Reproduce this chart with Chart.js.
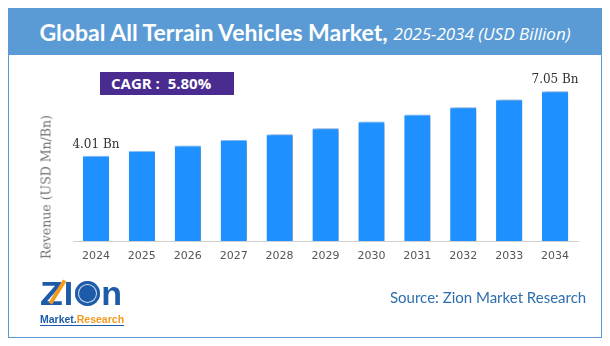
<!DOCTYPE html>
<html>
<head>
<meta charset="utf-8">
<script src="https://cdn.jsdelivr.net/npm/chart.js@4"></script>
<style>
    body { margin:0; background:#fff; }
    #wrap { position:relative; width:610px; height:346px; overflow:hidden; }
</style>
</head>
<body>
<div id="wrap">
    <div style="position:absolute; left:8px; top:8px; width:594px; height:330px; border:1px solid #5b9bd5; box-sizing:border-box;"></div>
    <div style="position:absolute; left:8px; top:8px; width:594px; height:47px; background:#5b9bd5; display:flex; align-items:center; justify-content:center; color:#fff; white-space:nowrap;">
        <span style="font-family:Lato, sans-serif; font-weight:700; font-size:23px;">Global All Terrain Vehicles Market,</span>
        <span style="font-family:'Open Sans', sans-serif; font-style:italic; font-size:17px; margin-left:6px; margin-top:3px;">2025-2034 (USD Billion)</span>
    </div>
    <canvas id="atvChart" style="position:absolute; left:0; top:0;"></canvas>
    <div style="position:absolute; left:100px; top:72px; width:134px; height:23px; background:#4a2c91; color:#fff; font-family:'Open Sans', sans-serif; font-weight:700; font-size:15px; line-height:23px; padding-left:11px; box-sizing:border-box; white-space:nowrap;">CAGR :&nbsp; 5.80%</div>
    <div style="position:absolute; left:46px; top:187px; transform:translate(-50%,-50%) rotate(-90deg); font-family:'DejaVu Serif', serif; font-size:12.5px; color:#707070; white-space:nowrap;">Revenue (USD Mn/Bn)</div>
    <!-- logo -->
    <div style="position:absolute; left:40px; top:278px; width:90px; font-family:'Liberation Sans', Arial, sans-serif; color:#1d5ba8;">
        <div style="position:relative; height:31px; font-weight:700; font-size:34px; line-height:31px; white-space:nowrap;">
            <span style="display:inline-block; transform:scaleX(1.1); transform-origin:left;">Z</span><span style="display:inline-block; margin-left:3px;">I</span><span style="display:inline-block; width:25px; height:25px; border-radius:50%; background:#1d5ba8; margin:0 1px 0 2px; vertical-align:-1px; box-shadow:inset 0 0 0 3px #1d5ba8, inset 0 0 0 4px #cfe0f2;"></span><span style="display:inline-block;">n</span>
            <div style="position:absolute; left:4px; top:12px; width:27px; height:4px; background:#f39a1e; transform:rotate(-58deg);"></div>
        </div>
        <div style="font-weight:700; font-size:10.5px; line-height:12px; border-bottom:1px solid #1d5ba8; display:inline-block; margin-top:1px;"><span>Market.</span><span style="color:#f39a1e;">Research</span></div>
    </div>
    <div style="position:absolute; left:390px; top:288px; font-family:Lato, sans-serif; font-size:15px; color:#2f6eae; white-space:nowrap;">Source: Zion Market Research</div>
</div>
<script>
const years = ['2024', '2025', '2026', '2027', '2028', '2029', '2030', '2031', '2032', '2033', '2034'];
const revenue = [4.01, 4.24, 4.49, 4.75, 5.02, 5.31, 5.62, 5.95, 6.30, 6.66, 7.05];
const labelledBars = [0, 10];

// soft grey shadow to the right of each bar
const barShadow = {
    id: 'barShadow',
    beforeDatasetsDraw(chart) {
        const ctx = chart.ctx;
        ctx.save();
        ctx.shadowColor = 'rgba(0,0,0,0.45)';
        ctx.shadowOffsetX = 3;
        ctx.shadowOffsetY = 1;
        ctx.shadowBlur = 3;
    },
    afterDatasetsDraw(chart) {
        chart.ctx.restore();
    }
};

// "x.xx Bn" above the first and last bar
const endLabels = {
    id: 'endLabels',
    afterDatasetsDraw(chart) {
        const ctx = chart.ctx;
        const bars = chart.getDatasetMeta(0).data;
        ctx.save();
        ctx.font = '12px "DejaVu Serif", serif';
        ctx.fillStyle = '#333';
        ctx.textAlign = 'center';
        ctx.textBaseline = 'alphabetic';
        labelledBars.forEach(i => {
            ctx.fillText(`${revenue[i].toFixed(2)} Bn`, bars[i].x, bars[i].y - 8);
        });
        ctx.restore();
    }
};

const canvas = document.getElementById('atvChart');
canvas.width = 610;
canvas.height = 346;
new Chart(canvas, {
    type: 'bar',
    data: {
        labels: years,
        datasets: [{
            data: revenue,
            backgroundColor: '#1e90ff',
            borderColor: '#8cc6ff',
            borderWidth: { top: 1, left: 0, right: 0, bottom: 0 },
            borderSkipped: 'bottom',
            categoryPercentage: 1,
            barPercentage: 0.57
        }]
    },
    options: {
        responsive: false,
        animation: false,
        layout: { padding: { left: 73, right: 32, top: 71, bottom: 75 } },
        plugins: {
            legend: { display: false },
            tooltip: { enabled: false }
        },
        scales: {
            x: {
                grid: { display: false, drawTicks: false },
                border: { color: '#d0d0d0', width: 1 },
                ticks: { color: '#555', padding: 9, font: { family: '"DejaVu Sans", sans-serif', size: 11 } },
                afterFit: (scale) => { scale.height = 30; }
            },
            y: {
                display: false,
                min: 0,
                max: 8
            }
        }
    },
    plugins: [barShadow, endLabels]
});
</script>
</body>
</html>
